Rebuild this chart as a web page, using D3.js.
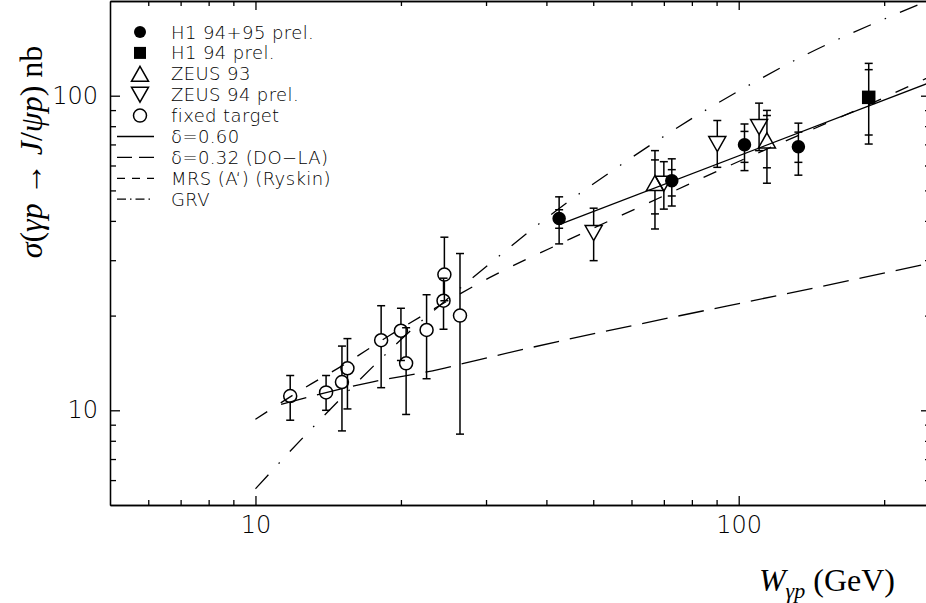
<!DOCTYPE html>
<html lang="en">
<head>
    <meta charset="UTF-8">
    <script src="https://d3js.org/d3.v7.min.js"></script>
    <style>
        body { margin: 0; background: #fff; }
        svg { display: block; }
        .axis text { font-family: "DejaVu Sans", sans-serif; font-weight: 200; font-size: 24px; fill: #000; }
        .legend text { font-family: "DejaVu Sans", sans-serif; font-weight: 200; font-size: 18px; letter-spacing: 0.4px; fill: #000; }
        .math { font-family: "Liberation Serif", "DejaVu Serif", serif; font-size: 32px; fill: #000; }
    </style>
</head>
<body>
    <svg id="chart" width="926" height="603"></svg>
    <script>
        // H1 94+95 prel. (filled circles)
        const h1W = [42.5, 72.7, 102.8, 132.9];
        const h1Sigma = [40.7, 53.7, 69.8, 68.8];
        const h1StatLo = [37.9, 48.0, 61.4, 61.4];
        const h1StatHi = [43.4, 58.2, 77.0, 76.6];
        const h1TotLo = [33.8, 44.6, 57.8, 55.9];
        const h1TotHi = [47.7, 63.0, 81.3, 81.8];

        // H1 94 prel. (filled square)
        const h194W = [185.8];
        const h194Sigma = [98.8];
        const h194StatLo = [75.0];
        const h194StatHi = [121.0];
        const h194TotLo = [70.2];
        const h194TotHi = [126.7];

        // ZEUS 93 (up triangles)
        const zeus93W = [67.1, 114.4];
        const zeus93Sigma = [52.8, 72.1];
        const zeus93StatLo = [42.1, 59.0];
        const zeus93StatHi = [62.5, 86.5];
        const zeus93TotLo = [37.7, 52.7];
        const zeus93TotHi = [66.9, 89.8];

        // ZEUS 94 prel. (down triangles)
        const zeus94W = [50.1, 70.0, 90.3, 110.2];
        const zeus94Sigma = [36.6, 52.5, 70.2, 79.5];
        const zeus94TotLo = [29.9, 43.6, 59.2, 66.9];
        const zeus94TotHi = [43.9, 61.7, 83.4, 94.7];

        // fixed target (open circles)
        const fixedW = [11.8, 14.0, 15.1, 15.5, 18.2, 20.0, 20.5, 22.6, 24.5, 24.6, 26.5];
        const fixedSigma = [11.1, 11.4, 12.3, 13.6, 16.7, 17.9, 14.1, 18.0, 22.3, 27.0, 20.0];
        const fixedLo = [9.3, 10.0, 8.6, 10.1, 11.8, 14.4, 9.7, 12.6, 18.1, 22.3, 8.4];
        const fixedHi = [12.9, 12.9, 16.0, 16.9, 21.5, 21.1, 18.3, 23.3, 26.3, 35.5, 31.5];

        // model curves
        const fitW = [42.5, 250];
        const fitSigma = [38.9, 110.5];
        const doLaW = [11.3, 17.4, 24.0, 29.1, 180.6, 250];
        const doLaSigma = [10.45, 12.3, 13.5, 14.5, 26.4, 29.4];
        const mrsW = [10, 12.5, 15.1, 18.9, 24.0, 30.5, 44.7, 65.4, 95.6, 180.9, 250];
        const mrsSigma = [9.36, 11.66, 13.84, 17.25, 21.5, 26.4, 35.0, 45.8, 59.9, 92.0, 115.3];
        const grvW = [10, 12.6, 14.9, 17.7, 21.1, 24.2, 30.5, 41.9, 54.9, 67.0, 82.4, 101.8, 125.4, 250];
        const grvSigma = [5.63, 8.25, 10.76, 14.0, 18.1, 21.7, 29.2, 43.1, 57.9, 71.1, 87.0, 105.1, 125.4, 202];

        const majorTicks = [10, 100];
        const minorTicksX = [6, 7, 8, 9, 20, 30, 40, 50, 60, 70, 80, 90, 200];
        const minorTicksY = [6, 7, 8, 9, 20, 30, 40, 50, 60, 70, 80, 90];

        const legendLabels = ["H1 94+95 prel.", "H1 94 prel.", "ZEUS 93", "ZEUS 94 prel.", "fixed target",
            "δ=0.60", "δ=0.32 (DO−LA)", "MRS (A‘) (Ryskin)", "GRV"];

        const width = 926, height = 603;
        const plot = { left: 110, right: 931, top: 1, bottom: 505 };

        const svg = d3.select("#chart");

        const x = d3.scaleLog().domain([5, 250]).range([plot.left, plot.right]);
        const y = d3.scaleLog().domain([5, 200]).range([plot.bottom, plot.top]);

        function styleAxis(g) {
            g.attr("font-family", null).attr("font-size", null);
            g.selectAll("path, line").attr("stroke", "#000").attr("stroke-width", 1.3);
        }

        const blank = () => "";

        // bottom
        svg.append("g").attr("class", "axis").attr("transform", `translate(0,${plot.bottom})`)
            .call(d3.axisBottom(x).tickValues(majorTicks).tickSize(-9).tickSizeOuter(0).tickPadding(11).tickFormat(d3.format("d")))
            .call(styleAxis);
        svg.append("g").attr("class", "axis").attr("transform", `translate(0,${plot.bottom})`)
            .call(d3.axisBottom(x).tickValues(minorTicksX).tickSize(-5).tickSizeOuter(0).tickFormat(blank))
            .call(styleAxis);
        // top
        svg.append("g").attr("class", "axis").attr("transform", `translate(0,${plot.top})`)
            .call(d3.axisTop(x).tickValues(majorTicks).tickSize(-9).tickSizeOuter(0).tickFormat(blank))
            .call(styleAxis);
        svg.append("g").attr("class", "axis").attr("transform", `translate(0,${plot.top})`)
            .call(d3.axisTop(x).tickValues(minorTicksX).tickSize(-5).tickSizeOuter(0).tickFormat(blank))
            .call(styleAxis);
        // left
        svg.append("g").attr("class", "axis").attr("transform", `translate(${plot.left},0)`)
            .call(d3.axisLeft(y).tickValues(majorTicks).tickSize(-10).tickSizeOuter(0).tickPadding(12).tickFormat(d3.format("d")))
            .call(styleAxis);
        svg.append("g").attr("class", "axis").attr("transform", `translate(${plot.left},0)`)
            .call(d3.axisLeft(y).tickValues(minorTicksY).tickSize(-6).tickSizeOuter(0).tickFormat(blank))
            .call(styleAxis);
        // right
        svg.append("g").attr("class", "axis").attr("transform", `translate(${plot.right},0)`)
            .call(d3.axisRight(y).tickValues(majorTicks).tickSize(-10).tickSizeOuter(0).tickFormat(blank))
            .call(styleAxis);
        svg.append("g").attr("class", "axis").attr("transform", `translate(${plot.right},0)`)
            .call(d3.axisRight(y).tickValues(minorTicksY).tickSize(-6).tickSizeOuter(0).tickFormat(blank))
            .call(styleAxis);

        svg.append("clipPath").attr("id", "clip")
            .append("rect")
            .attr("x", plot.left).attr("y", plot.top)
            .attr("width", plot.right - plot.left).attr("height", plot.bottom - plot.top);

        const line = d3.line()
            .x(d => x(d[0]))
            .y(d => y(d[1]))
            .curve(d3.curveMonotoneX);

        const curves = [
            { W: fitW, sigma: fitSigma, dash: null },
            { W: doLaW, sigma: doLaSigma, dash: "26,11" },
            { W: mrsW, sigma: mrsSigma, dash: "14,16" },
            { W: grvW, sigma: grvSigma, dash: "19,15,1.5,15" }
        ];

        const curveLayer = svg.append("g").attr("clip-path", "url(#clip)");
        curves.forEach(c => {
            curveLayer.append("path")
                .datum(d3.zip(c.W, c.sigma))
                .attr("fill", "none")
                .attr("stroke", "#000")
                .attr("stroke-width", 1.3)
                .attr("stroke-dasharray", c.dash)
                .attr("d", line);
        });

        const series = [
            { type: "disc", W: h1W, sigma: h1Sigma, lo: h1TotLo, hi: h1TotHi, statLo: h1StatLo, statHi: h1StatHi, gap: 0 },
            { type: "square", W: h194W, sigma: h194Sigma, lo: h194TotLo, hi: h194TotHi, statLo: h194StatLo, statHi: h194StatHi, gap: 0 },
            { type: "up", W: zeus93W, sigma: zeus93Sigma, lo: zeus93TotLo, hi: zeus93TotHi, statLo: zeus93StatLo, statHi: zeus93StatHi, gap: 7.5 },
            { type: "down", W: zeus94W, sigma: zeus94Sigma, lo: zeus94TotLo, hi: zeus94TotHi, gap: 7.5 },
            { type: "ring", W: fixedW, sigma: fixedSigma, lo: fixedLo, hi: fixedHi, gap: 6.5 }
        ];

        function drawMarker(g, type, cx, cy) {
            if (type === "disc") {
                g.append("circle").attr("cx", cx).attr("cy", cy).attr("r", 6).attr("fill", "#000");
            } else if (type === "square") {
                g.append("rect").attr("x", cx - 6).attr("y", cy - 6).attr("width", 12).attr("height", 12).attr("fill", "#000");
            } else if (type === "ring") {
                g.append("circle").attr("cx", cx).attr("cy", cy).attr("r", 6.5)
                    .attr("fill", "none").attr("stroke", "#000").attr("stroke-width", 1.5);
            } else {
                const s = type === "up" ? 1 : -1;
                g.append("path")
                    .attr("d", `M${cx},${cy - 7.5 * s}L${cx + 8.5},${cy + 7.5 * s}L${cx - 8.5},${cy + 7.5 * s}Z`)
                    .attr("fill", "none").attr("stroke", "#000").attr("stroke-width", 1.5);
            }
        }

        const pointLayer = svg.append("g").attr("stroke", "#000").attr("stroke-width", 1.5);

        function cap(g, cx, cy, half) {
            g.append("line").attr("x1", cx - half).attr("x2", cx + half).attr("y1", cy).attr("y2", cy);
        }

        series.forEach(s => {
            s.W.forEach((w, i) => {
                const cx = x(w), cy = y(s.sigma[i]);
                const top = y(s.hi[i]), bot = y(s.lo[i]);
                if (cy - s.gap > top) {
                    pointLayer.append("line").attr("x1", cx).attr("x2", cx).attr("y1", top).attr("y2", cy - s.gap);
                }
                if (cy + s.gap < bot) {
                    pointLayer.append("line").attr("x1", cx).attr("x2", cx).attr("y1", cy + s.gap).attr("y2", bot);
                }
                cap(pointLayer, cx, top, 4);
                cap(pointLayer, cx, bot, 4);
                if (s.statLo) {
                    cap(pointLayer, cx, y(s.statLo[i]), 4);
                    cap(pointLayer, cx, y(s.statHi[i]), 4);
                }
                drawMarker(pointLayer, s.type, cx, cy);
            });
        });

        // legend
        const legend = svg.append("g").attr("class", "legend");
        const legendMarkers = ["disc", "square", "up", "down", "ring"];
        const legendDash = [null, "15,7", "8,7", "9,4,1.5,4"];
        legendLabels.forEach((label, i) => {
            const ly = 32 + i * 20.9;
            if (i < legendMarkers.length) {
                drawMarker(legend, legendMarkers[i], 140, ly);
            } else {
                legend.append("line")
                    .attr("x1", 117).attr("x2", 154)
                    .attr("y1", ly).attr("y2", ly)
                    .attr("stroke", "#000").attr("stroke-width", 1.3)
                    .attr("stroke-dasharray", legendDash[i - legendMarkers.length]);
            }
            legend.append("text")
                .attr("x", 171)
                .attr("y", ly + 6.5)
                .text(label);
        });

        // axis titles
        const yTitle = svg.append("text")
            .attr("class", "math")
            .attr("transform", "translate(42,152) rotate(-90)")
            .attr("text-anchor", "middle");
        yTitle.append("tspan").attr("font-style", "italic").text("σ");
        yTitle.append("tspan").text("(");
        yTitle.append("tspan").attr("font-style", "italic").text("γp");
        yTitle.append("tspan").text(" → ");
        yTitle.append("tspan").attr("font-style", "italic").text("J");
        yTitle.append("tspan").text("/");
        yTitle.append("tspan").attr("font-style", "italic").text("ψp");
        yTitle.append("tspan").text(") nb");

        const xTitle = svg.append("text")
            .attr("class", "math")
            .attr("x", 895)
            .attr("y", 591)
            .attr("text-anchor", "end");
        xTitle.append("tspan").attr("font-style", "italic").text("W");
        xTitle.append("tspan").attr("font-style", "italic").attr("font-size", "22px").attr("dy", 7).text("γp");
        xTitle.append("tspan").attr("dy", -7).text(" (GeV)");
    </script>
</body>
</html>
